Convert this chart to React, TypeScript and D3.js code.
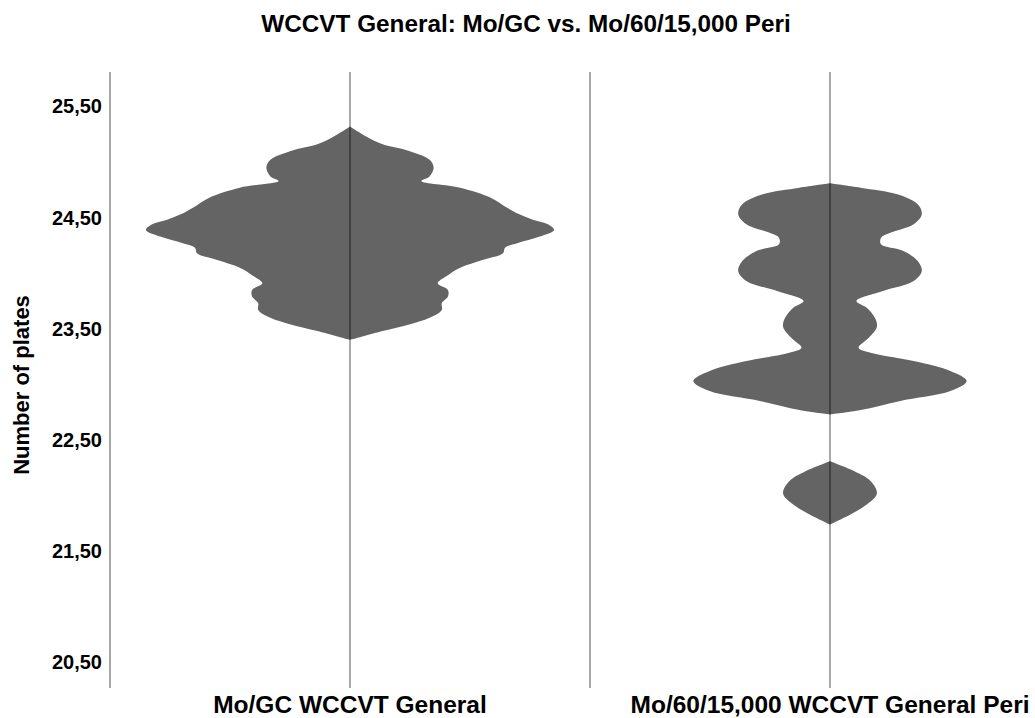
import React from "react";
import * as d3 from "d3";

const title = "WCCVT General: Mo/GC vs. Mo/60/15,000 Peri";
const yAxisTitle = "Number of plates";
const categories = ["Mo/GC WCCVT General", "Mo/60/15,000 WCCVT General Peri"];
const yTicks = [20.5, 21.5, 22.5, 23.5, 24.5, 25.5];
const yDomain = [20.27, 25.81];

// [value (plates), relative density]
const moGCProfile: [number, number][] = [
  [25.32, 0], [25.23, 0.08], [25.16, 0.16], [25.1, 0.29], [25.02, 0.39],
  [24.95, 0.41], [24.87, 0.39], [24.83, 0.35], [24.77, 0.54], [24.68, 0.69],
  [24.59, 0.77], [24.53, 0.83], [24.48, 0.9], [24.44, 0.97], [24.39, 1.0],
  [24.33, 0.93], [24.27, 0.82], [24.23, 0.76], [24.18, 0.75], [24.12, 0.65],
  [24.05, 0.54], [23.97, 0.47], [23.91, 0.43], [23.85, 0.48], [23.79, 0.48],
  [23.73, 0.45], [23.67, 0.45], [23.6, 0.39], [23.54, 0.29], [23.48, 0.16],
  [23.4, 0],
];

const periProfileUpper: [number, number][] = [
  [24.81, 0], [24.77, 0.15], [24.71, 0.33], [24.62, 0.43], [24.53, 0.45],
  [24.44, 0.41], [24.36, 0.29], [24.32, 0.25], [24.26, 0.25], [24.2, 0.36],
  [24.11, 0.43], [24.02, 0.45], [23.93, 0.41], [23.84, 0.26], [23.75, 0.13],
  [23.69, 0.18], [23.6, 0.22], [23.52, 0.23], [23.42, 0.19], [23.33, 0.14],
  [23.28, 0.21], [23.21, 0.41], [23.12, 0.59], [23.03, 0.67], [22.94, 0.59],
  [22.85, 0.34], [22.77, 0.15], [22.73, 0],
];

const periProfileLower: [number, number][] = [
  [22.31, 0], [22.22, 0.12], [22.13, 0.2], [22.02, 0.23], [21.92, 0.18],
  [21.83, 0.1], [21.74, 0],
];

const profiles: [number, number][][][] = [
  [moGCProfile],
  [periProfileUpper, periProfileLower],
];

export default function App() {
  const W = 1035;
  const H = 718;
  const plotTop = 72;
  const plotBottom = 688;
  const plotLeft = 110;
  const plotRight = 1070;

  const y = d3.scaleLinear().domain(yDomain).range([plotBottom, plotTop]);
  const x = d3.scaleBand<string>().domain(categories).range([plotLeft, plotRight]).padding(0);
  const w = d3.scaleLinear().domain([0, 1]).range([0, 204]);

  const fmt = (v: number) => d3.format(".2f")(v).replace(".", ",");
  const font = "'Liberation Sans', Arial, Helvetica, sans-serif";

  return (
    <svg width={W} height={H} style={{ position: "absolute", left: 0, top: 0, background: "#fff" }}>
      <text x={526} y={32} textAnchor="middle" fontFamily={font} fontWeight="bold" fontSize={24.3} fill="#000">
        {title}
      </text>

      {/* violins */}
      {categories.map((c, i) => {
        const cx = (x(c) as number) + x.bandwidth() / 2;
        const area = d3
          .area<[number, number]>()
          .y((d) => y(d[0]))
          .x0((d) => cx - w(d[1]))
          .x1((d) => cx + w(d[1]))
          .curve(d3.curveCatmullRom.alpha(0.5));
        return (
          <g key={c}>
            {profiles[i].map((seg, j) => (
              <path key={j} d={area(seg) || ""} fill="#646464" stroke="none" />
            ))}
          </g>
        );
      })}

      {/* panel boundaries */}
      {categories.map((c) => (
        <line
          key={"b" + c}
          x1={x(c) as number}
          x2={x(c) as number}
          y1={plotTop}
          y2={plotBottom}
          stroke="#8a8a8a"
          strokeWidth={1.5}
        />
      ))}
      {/* center lines */}
      {categories.map((c) => {
        const cx = (x(c) as number) + x.bandwidth() / 2;
        return (
          <line
            key={"c" + c}
            x1={cx}
            x2={cx}
            y1={plotTop}
            y2={plotBottom}
            stroke="#000"
            strokeOpacity={0.45}
            strokeWidth={1.5}
          />
        );
      })}

      {/* y ticks */}
      {yTicks.map((t) => (
        <text
          key={t}
          x={102}
          y={y(t)}
          dy="0.35em"
          textAnchor="end"
          fontFamily={font}
          fontWeight="bold"
          fontSize={20}
          fill="#000"
        >
          {fmt(t)}
        </text>
      ))}

      <text
        transform={`translate(29, ${(plotTop + plotBottom) / 2 + 5}) rotate(-90)`}
        textAnchor="middle"
        fontFamily={font}
        fontWeight="bold"
        fontSize={22}
        fill="#000"
      >
        {yAxisTitle}
      </text>

      {/* x labels */}
      {categories.map((c) => (
        <text
          key={"l" + c}
          x={(x(c) as number) + x.bandwidth() / 2}
          y={713}
          textAnchor="middle"
          fontFamily={font}
          fontWeight="bold"
          fontSize={24.5}
          fill="#000"
        >
          {c}
        </text>
      ))}
    </svg>
  );
}
